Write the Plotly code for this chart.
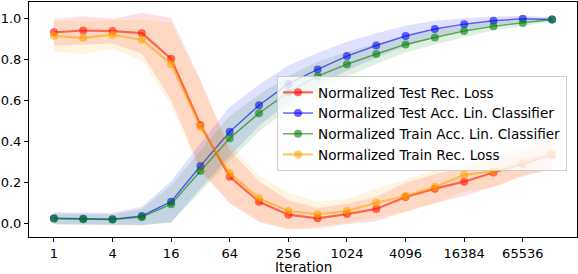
import plotly.graph_objects as go

iterations = [1, 2, 4, 8, 16, 32, 64, 128, 256, 512, 1024, 2048, 4096, 8192, 16384, 32768, 65536, 131072]
tick_vals = [1, 4, 16, 64, 256, 1024, 4096, 16384, 65536]
tick_text = ["1", "4", "16", "64", "256", "1024", "4096", "16384", "65536"]

test_rec_loss = [0.932, 0.941, 0.938, 0.928, 0.803, 0.48, 0.227, 0.105, 0.042, 0.024, 0.045, 0.07, 0.128, 0.169, 0.203, 0.248, 0.289, 0.335]
test_rec_loss_std = [0.065, 0.07, 0.06, 0.1, 0.2, 0.22, 0.13, 0.1, 0.07, 0.05, 0.05, 0.06, 0.07, 0.07, 0.07, 0.07, 0.06, 0.07]

test_acc = [0.024, 0.022, 0.02, 0.036, 0.105, 0.28, 0.447, 0.576, 0.68, 0.751, 0.816, 0.868, 0.914, 0.948, 0.972, 0.988, 0.998, 0.995]
test_acc_std = [0.03, 0.03, 0.03, 0.045, 0.1, 0.11, 0.12, 0.1, 0.09, 0.08, 0.07, 0.06, 0.05, 0.04, 0.03, 0.02, 0.015, 0.01]

train_acc = [0.022, 0.02, 0.018, 0.03, 0.093, 0.255, 0.415, 0.537, 0.64, 0.718, 0.776, 0.826, 0.873, 0.907, 0.938, 0.962, 0.978, 0.995]
train_acc_std = [0.025, 0.025, 0.025, 0.04, 0.09, 0.1, 0.11, 0.09, 0.08, 0.07, 0.06, 0.05, 0.04, 0.035, 0.03, 0.02, 0.015, 0.01]

train_rec_loss = [0.915, 0.905, 0.92, 0.896, 0.777, 0.47, 0.244, 0.122, 0.06, 0.044, 0.06, 0.10, 0.133, 0.177, 0.236, 0.254, 0.304, 0.342]
train_rec_loss_std = [0.075, 0.08, 0.07, 0.1, 0.2, 0.22, 0.14, 0.11, 0.09, 0.06, 0.06, 0.07, 0.08, 0.08, 0.08, 0.08, 0.07, 0.08]

series = [
    ("Normalized Test Rec. Loss", test_rec_loss, test_rec_loss_std, (255, 0, 0), 2.2),
    ("Normalized Test Acc. Lin. Classifier", test_acc, test_acc_std, (0, 0, 255), 1.5),
    ("Normalized Train Acc. Lin. Classifier", train_acc, train_acc_std, (0, 128, 0), 1.5),
    ("Normalized Train Rec. Loss", train_rec_loss, train_rec_loss_std, (255, 165, 0), 2.2),
]

fig = go.Figure()
for name, vals, std, (r, g, b), lw in series:
    upper = [v + s for v, s in zip(vals, std)]
    lower = [v - s for v, s in zip(vals, std)]
    fig.add_trace(go.Scatter(x=iterations, y=upper, mode="lines", line=dict(width=0),
                             showlegend=False, hoverinfo="skip"))
    fig.add_trace(go.Scatter(x=iterations, y=lower, mode="lines", line=dict(width=0),
                             fill="tonexty", fillcolor=f"rgba({r},{g},{b},0.12)",
                             showlegend=False, hoverinfo="skip"))
    fig.add_trace(go.Scatter(x=iterations, y=vals, mode="lines+markers", name=name,
                             line=dict(color=f"rgba({r},{g},{b},0.6)", width=lw),
                             marker=dict(color=f"rgba({r},{g},{b},0.6)", size=8)))

font = dict(family="DejaVu Sans", size=13, color="black")
fig.update_layout(
    width=578, height=274,
    margin=dict(l=29, r=1, t=2, b=37, autoexpand=False),
    paper_bgcolor="white", plot_bgcolor="white",
    font=font,
    showlegend=True,
    legend=dict(x=0.4526, y=0.685, xanchor="left", yanchor="top", traceorder="normal",
                bgcolor="rgba(255,255,255,0.8)", bordercolor="rgb(204,204,204)",
                borderwidth=1, font=dict(family="DejaVu Sans", size=13.6, color="black"),
                tracegroupgap=0),
    annotations=[dict(text="Iteration", x=0.5, y=-0.126, xref="paper", yref="paper",
                      xanchor="center", yanchor="middle", showarrow=False,
                      font=dict(family="DejaVu Sans", size=13.5, color="black"))],
)
fig.update_xaxes(type="log", range=[-0.2559, 5.3734], tickvals=tick_vals, ticktext=tick_text,
                 automargin=False,
                 showgrid=False, zeroline=False, showline=True, mirror=True,
                 linecolor="black", linewidth=1, ticks="outside", ticklen=4, tickcolor="black")
fig.update_yaxes(range=[-0.067, 1.08], tickvals=[0.0, 0.2, 0.4, 0.6, 0.8, 1.0],
                 automargin=False,
                 tickformat=".1f", showgrid=False, zeroline=False, showline=True, mirror=True,
                 linecolor="black", linewidth=1, ticks="outside", ticklen=4, tickcolor="black")

fig.write_html("out.html", config={"displayModeBar": False},
               post_script="document.body.style.margin='0';document.body.style.overflow='hidden';")
